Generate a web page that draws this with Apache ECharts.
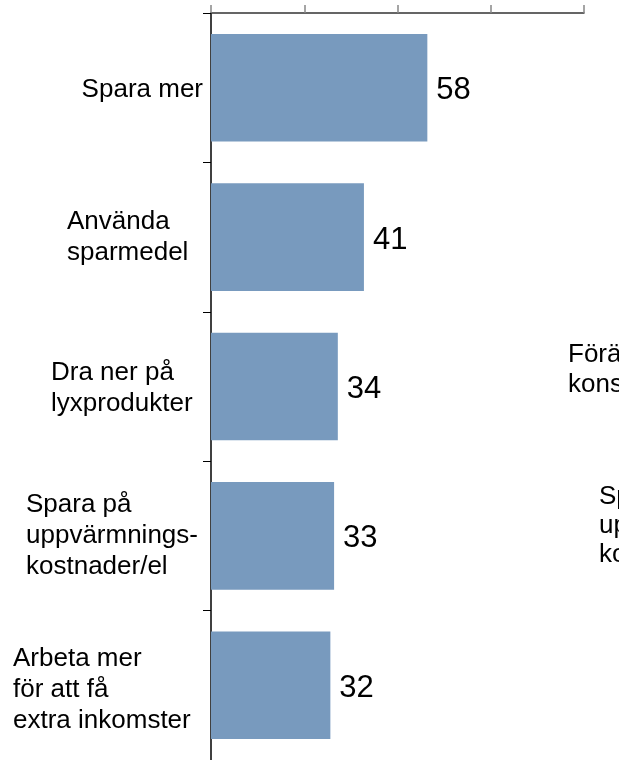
<!DOCTYPE html>
<html>
<head>
<meta charset="utf-8">
<script src="https://cdn.jsdelivr.net/npm/echarts@6/dist/echarts.min.js"></script>
<style>
html,body{margin:0;padding:0;background:#fff;}
#chart{width:619px;height:760px;}
</style>
</head>
<body>
<div id="chart"></div>
<script>
// Data
const categories = [
  'Spara mer',
  'Använda\nsparmedel',
  'Dra ner på\nlyxprodukter',
  'Spara på\nuppvärmnings-\nkostnader/el',
  'Arbeta mer\nför att få\nextra inkomster'
];
const values = [58, 41, 34, 33, 32];
const xTicks = [0, 25, 50, 75, 100];
// Cut-off text fragments from a neighbouring chart
const sideTextA = ['Förä', 'kons'];
const sideTextB = ['Sp', 'up', 'ko'];

const FONT = "'Liberation Sans', Arial, sans-serif";
const labelWidths = [null, 136, 152, 177, 190];
const labelPadTop = [4, 0, 4, 0, 10];

const rich = {};
labelWidths.forEach((w, i) => {
  const s = { fontSize: 26, lineHeight: 31, color: '#000', fontFamily: FONT, align: 'left' };
  if (w) s.width = w;
  rich['b' + i] = s;
});

const chart = echarts.init(document.getElementById('chart'), null, { renderer: 'canvas' });
chart.setOption({
  animation: false,
  backgroundColor: '#fff',
  grid: { left: 211, right: 35, top: 13, bottom: 0, containLabel: false },
  xAxis: {
    type: 'value',
    position: 'top',
    min: xTicks[0],
    max: xTicks[xTicks.length - 1],
    interval: xTicks[1] - xTicks[0],
    axisLine: { show: true, lineStyle: { color: '#333', width: 1.5 } },
    axisTick: { show: true, inside: false, length: 8, lineStyle: { color: '#888', width: 1.5 } },
    axisLabel: { show: false },
    splitLine: { show: false }
  },
  yAxis: {
    type: 'category',
    inverse: true,
    data: categories.map((c, i) => ({
      value: c,
      textStyle: { padding: [labelPadTop[i], 0, 0, 0] }
    })),
    axisLine: { show: true, lineStyle: { color: '#000', width: 1.5 } },
    axisTick: { show: true, length: 8, lineStyle: { color: '#000', width: 1 } },
    axisLabel: {
      margin: 8,
      align: 'right',
      verticalAlign: 'middle',
      fontSize: 26,
      lineHeight: 31,
      color: '#000',
      fontFamily: FONT,
      formatter: function (value, index) {
        return value.split('\n').map(l => '{b' + index + '|' + l + '}').join('\n');
      },
      rich: rich
    },
    splitLine: { show: false }
  },
  series: [{
    type: 'bar',
    data: values,
    barCategoryGap: '28%',
    itemStyle: { color: '#789abe' },
    label: {
      show: true,
      position: 'right',
      distance: 9,
      fontSize: 31,
      color: '#000',
      fontFamily: FONT,
      offset: [0, 3]
    }
  }],
  graphic: [
    {
      type: 'text', left: 568, top: 340,
      style: { text: sideTextA.join('\n'), font: '26px ' + FONT, fill: '#000', lineHeight: 30 }
    },
    {
      type: 'text', left: 599, top: 482,
      style: { text: sideTextB.join('\n'), font: '26px ' + FONT, fill: '#000', lineHeight: 29 }
    }
  ]
});
</script>
</body>
</html>
